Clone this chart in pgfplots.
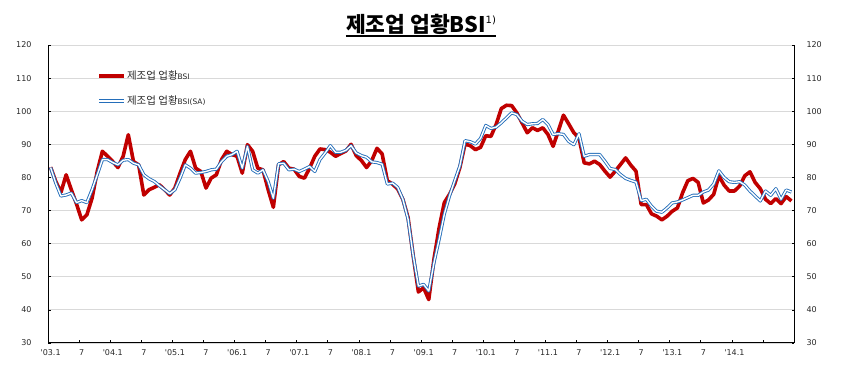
\documentclass[border=0pt]{standalone}
\usepackage{fontspec}
\setmainfont{DejaVu Sans}
\newfontfamily\kr{Noto Sans CJK KR}
\usepackage{pgfplots}
\usepackage{pgfplotstable}
\pgfplotsset{compat=1.18}
\definecolor{bsired}{RGB}{192,0,0}
\definecolor{bsiblue}{RGB}{36,110,186}
\definecolor{gridgray}{RGB}{217,217,217}
\definecolor{txt}{RGB}{40,40,40}

% 제조업 업황BSI, monthly 2003.1 - 2014.12
\pgfplotstableread{
v
83.1
78.8
75.5
80.8
76.3
72.0
67.2
68.7
73.7
81.8
87.9
86.4
84.8
83.0
86.4
92.9
84.8
83.8
74.7
76.3
77.0
77.8
76.3
74.7
76.8
81.3
85.4
87.9
82.8
81.8
76.8
79.8
80.8
85.4
87.9
86.9
86.4
81.3
89.9
87.9
82.8
82.3
76.3
71.0
83.8
84.8
82.8
82.5
80.3
79.8
82.8
86.4
88.6
88.4
87.6
86.4
87.2
88.0
90.0
86.6
85.1
83.0
85.1
88.8
87.1
79.0
78.0
76.5
73.4
67.9
56.3
45.4
46.7
43.1
55.3
64.8
72.4
74.9
78.0
83.0
90.1
89.6
88.4
89.1
92.6
92.4
96.0
100.8
101.8
101.7
99.5
96.5
93.5
95.0
94.2
95.0
93.0
89.4
94.0
98.8
96.2
93.5
91.9
84.4
84.1
84.9
83.9
81.9
80.1
81.9
83.9
85.9
83.7
81.9
71.8
71.8
69.0
68.3
67.2
68.3
69.8
70.8
75.4
79.0
79.7
78.5
72.3
73.2
74.9
80.5
77.7
75.9
75.9
77.4
80.5
81.7
78.5
76.6
73.4
72.1
73.6
72.1
74.2
72.9
}\redtab

% 제조업 업황BSI(SA)
\pgfplotstableread{
v
83.0
78.3
74.4
74.7
75.3
72.4
73.0
72.4
76.3
80.8
85.4
85.4
84.5
83.8
85.2
85.4
84.3
83.8
80.8
79.6
78.8
77.5
76.3
75.1
76.3
79.8
83.8
82.8
81.3
81.5
81.8
82.3
82.5
84.8
86.4
86.9
87.9
82.8
89.4
82.3
81.3
82.3
78.8
73.7
84.1
84.3
82.3
82.5
81.8
82.5
83.3
81.8
85.4
87.4
89.6
87.6
87.6
88.2
89.6
87.4
86.6
86.1
84.7
84.5
84.0
78.0
78.3
77.0
73.4
67.4
56.3
47.2
47.7
45.7
54.2
61.3
68.9
74.4
79.0
83.5
91.1
90.8
90.1
91.8
95.7
94.8
95.2
96.5
98.0
99.5
99.0
97.0
96.0
96.2
96.3
97.5
96.0
93.0
93.2
93.0
90.9
89.9
93.2
86.4
86.9
86.9
86.9
84.9
82.7
82.4
80.9
79.7
79.1
78.6
73.0
73.4
71.3
69.8
69.5
70.8
72.3
72.6
73.2
73.9
74.6
74.6
75.6
76.2
78.0
82.0
80.0
78.7
78.5
78.7
77.7
75.9
74.4
72.9
75.9
74.6
76.6
73.4
76.2
75.6
}\bluetab

\begin{document}
\begin{tikzpicture}
\useasboundingbox (0pt,0pt) rectangle (860pt,369pt);

% main axis: left labels, grid, data
\begin{axis}[
  at={(48pt,26pt)}, anchor=south west,
  width=746pt, height=298pt, scale only axis,
  xmin=-0.5, xmax=143.5, ymin=30, ymax=120,
  axis x line*=bottom, axis y line*=left,
  axis line style={black, line width=1pt, -},
  ytick={30,40,...,120},
  ymajorgrids, grid style={gridgray, line width=0.8pt},
  tick align=inside, major tick length=2.5pt,
  xtick={0,6,...,132},
  xticklabels={\textquotesingle03.1,7,\textquotesingle04.1,7,\textquotesingle05.1,7,\textquotesingle06.1,7,\textquotesingle07.1,7,\textquotesingle08.1,7,\textquotesingle09.1,7,\textquotesingle10.1,7,\textquotesingle11.1,7,\textquotesingle12.1,7,\textquotesingle13.1,7,\textquotesingle14.1},
  xtick style={draw=none},
  ytick style={black, line width=0.6pt},
  /pgf/number format/assume math mode=true,
  ticklabel style={font=\fontsize{8}{9}\selectfont, text=txt},
  xticklabel style={yshift=-3.5pt},
  yticklabel style={xshift=-13pt},
  legend cell align=left,
  legend style={draw=none, fill=none, at={(0.066,0.918)}, anchor=north west,
    inner sep=0pt, row sep=13pt, font=\fontsize{10.5}{12}\selectfont, text=txt,
    nodes={inner sep=1pt}},
  legend image code/.code={\draw[#1] (0pt,0pt) -- (25pt,0pt);},
]
\addplot[bsired, line width=3.6pt, line join=round] table[x expr=\coordindex, y=v]{\redtab};
\addlegendentry{{\kr 제조업 업황}{\fontsize{7.5}{8}\selectfont BSI}}
\addplot[bsiblue, line width=0.9pt, double=white, double distance=1.4pt, line join=round] table[x expr=\coordindex, y=v]{\bluetab};
\addlegendentry{{\kr 제조업 업황}{\fontsize{7.5}{8}\selectfont BSI(SA)}}
\end{axis}

% overlay axis: right axis labels and x tick marks
\begin{axis}[
  at={(48pt,26pt)}, anchor=south west,
  width=746pt, height=298pt, scale only axis,
  xmin=-0.5, xmax=143.5, ymin=30, ymax=120,
  axis x line*=bottom, axis y line*=right,
  axis line style={black, line width=1pt, -},
  ytick={30,40,...,120},
  xtick={5.5,11.5,...,137.5}, xticklabels={},
  tick align=inside, major tick length=2.5pt,
  tick style={black, line width=0.6pt},
  /pgf/number format/assume math mode=true,
  ticklabel style={font=\fontsize{8}{9}\selectfont, text=txt},
  yticklabel style={xshift=9pt},
]
\addplot[draw=none] coordinates {(0,50)};
\end{axis}

% title
\node[anchor=base, inner sep=0pt] (t) at (421pt,336pt)
  {{\kr\bfseries\fontsize{21.5}{24}\selectfont 제조업 업황BSI}\raisebox{9pt}{\fontsize{10}{11}\selectfont 1)}};
\draw[line width=1.3pt] ([yshift=-3pt]t.base west) -- ([yshift=-3pt]t.base east);
\end{tikzpicture}
\end{document}
